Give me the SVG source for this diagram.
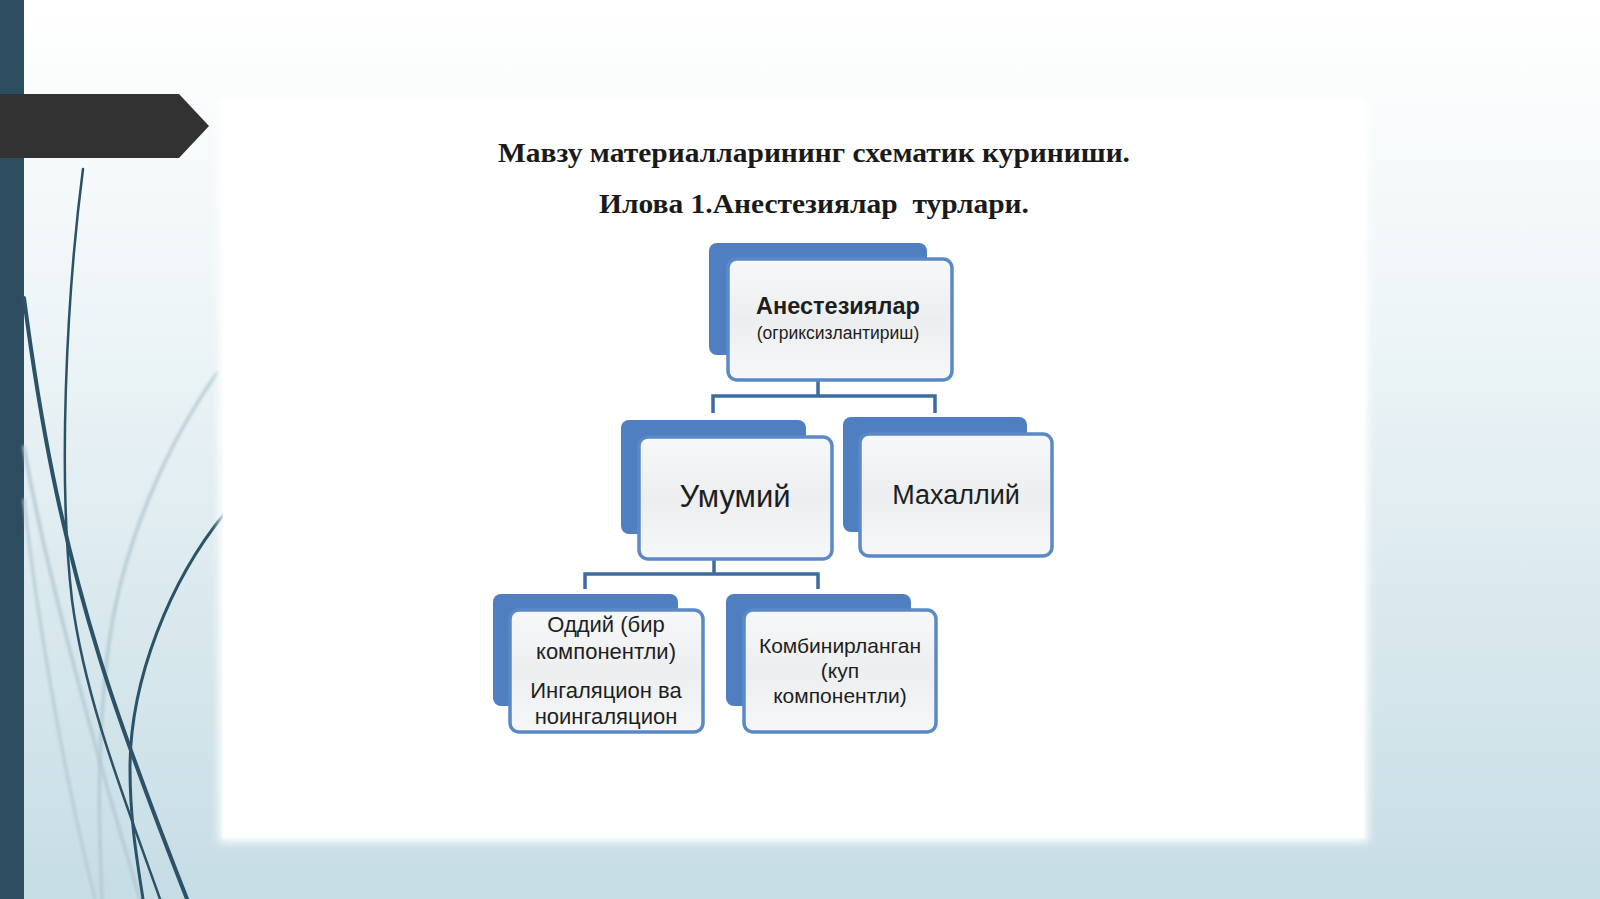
<svg xmlns="http://www.w3.org/2000/svg" width="1600" height="899" viewBox="0 0 1600 899">
<style>
.title{font-family:"Liberation Serif","Times New Roman",serif;font-weight:bold;fill:#1a1a1a;text-anchor:middle;white-space:pre}
.lbl{font-family:"Liberation Sans",Arial,sans-serif;fill:#1e1e1e;text-anchor:middle}
.back{fill:#4f7fc0}
.front{fill:url(#gFront);stroke:#5b89c6;stroke-width:3.5}
.conn{fill:none;stroke:#3d6c9e;stroke-width:3.5}
.dk{fill:none;stroke:#2b5266;stroke-linecap:round}
.fd{fill:none;stroke:#b3c8d1;stroke-linecap:round}
</style>
<defs>
<linearGradient id="gBg" x1="0" y1="0" x2="0" y2="1">
<stop offset="0" stop-color="#ffffff"/>
<stop offset="0.35" stop-color="#eef5f7"/>
<stop offset="1" stop-color="#c6dde5"/>
</linearGradient>
<linearGradient id="gFront" x1="0" y1="0" x2="0" y2="1">
<stop offset="0" stop-color="#f7f8f9"/>
<stop offset="0.5" stop-color="#eceef0"/>
<stop offset="1" stop-color="#f6f7f8"/>
</linearGradient>
<filter id="soft" x="-5%" y="-5%" width="110%" height="110%">
<feGaussianBlur stdDeviation="4"/>
</filter>
<filter id="blurL" x="-20%" y="-20%" width="140%" height="140%">
<feGaussianBlur stdDeviation="1.5"/>
</filter>
</defs>

<!-- background -->
<rect x="0" y="0" width="1600" height="899" fill="url(#gBg)"/>
<rect x="0" y="0" width="24" height="899" fill="#2c4d60"/>

<!-- decorative curves -->
<g id="curves">
<path class="fd" stroke-width="3" filter="url(#blurL)" d="M217,373 C170,440 122,540 108,650 C98,730 98,810 102,899"/>
<path class="fd" stroke-width="3" filter="url(#blurL)" d="M24,447 C40,540 80,700 140,899"/>
<path class="fd" stroke-width="2.5" filter="url(#blurL)" d="M24,500 C35,600 60,760 95,899"/>
<path class="dk" stroke-width="2.5" d="M83,169 C66,300 58,480 72,600 C85,700 125,800 160,899"/>
<path class="dk" stroke-width="4" d="M24,298 C40,420 60,530 100,659 C125,740 160,830 187,899"/>
<path class="dk" stroke-width="3" d="M225,513 C170,580 130,680 130,768 C130,820 137,860 143,899"/>
</g>

<!-- banner arrow -->
<path d="M0,94 H179 L209,126 L179,158 H0 Z" fill="#323232"/>

<!-- white panel -->
<rect x="219" y="99" width="1149" height="743" fill="#ffffff" filter="url(#soft)"/>
<rect x="223" y="103" width="1141" height="735" fill="#ffffff"/>

<!-- titles -->
<text class="title" x="814" y="162" font-size="28" textLength="632" lengthAdjust="spacingAndGlyphs">Мавзу материалларининг схематик куриниши.</text>
<text class="title" x="814" y="213" font-size="28" textLength="430" lengthAdjust="spacingAndGlyphs" xml:space="preserve">Илова 1.Анестезиялар  турлари.</text>

<!-- connectors -->
<g id="connectors">
<path class="conn" d="M818,380 V396 M713,413 V396 H935 V413"/>
<path class="conn" d="M714,559 V574 M585,589 V574 H818 V589"/>
</g>

<!-- nodes -->
<g id="node-root">
<rect class="back" x="709" y="243" width="218" height="112" rx="8"/>
<rect class="front" x="728" y="259" width="224" height="121" rx="9"/>
<text class="lbl" x="838" y="314" font-size="23.5" font-weight="bold">Анестезиялар</text>
<text class="lbl" x="838" y="339" font-size="17.5">(огриксизлантириш)</text>
</g>

<g id="node-umumiy">
<rect class="back" x="621" y="420" width="185" height="114" rx="8"/>
<rect class="front" x="639" y="437" width="193" height="122" rx="9"/>
<text class="lbl" x="735" y="507" font-size="31">Умумий</text>
</g>

<g id="node-mahalliy">
<rect class="back" x="843" y="417" width="184" height="115" rx="8"/>
<rect class="front" x="860" y="434" width="192" height="122" rx="9"/>
<text class="lbl" x="956" y="504" font-size="27">Махаллий</text>
</g>

<g id="node-oddiy">
<rect class="back" x="493" y="594" width="185" height="112" rx="8"/>
<rect class="front" x="510" y="610" width="193" height="122" rx="9"/>
<text class="lbl" x="606" y="632" font-size="22">Оддий (бир</text>
<text class="lbl" x="606" y="659" font-size="22">компонентли)</text>
<text class="lbl" x="606" y="698" font-size="22">Ингаляцион ва</text>
<text class="lbl" x="606" y="724" font-size="22">ноингаляцион</text>
</g>

<g id="node-kombinirlangan">
<rect class="back" x="726" y="594" width="185" height="112" rx="8"/>
<rect class="front" x="744" y="610" width="192" height="122" rx="9"/>
<text class="lbl" x="840" y="653" font-size="21">Комбинирланган</text>
<text class="lbl" x="840" y="678" font-size="21">(куп</text>
<text class="lbl" x="840" y="703" font-size="21">компонентли)</text>
</g>
</svg>
